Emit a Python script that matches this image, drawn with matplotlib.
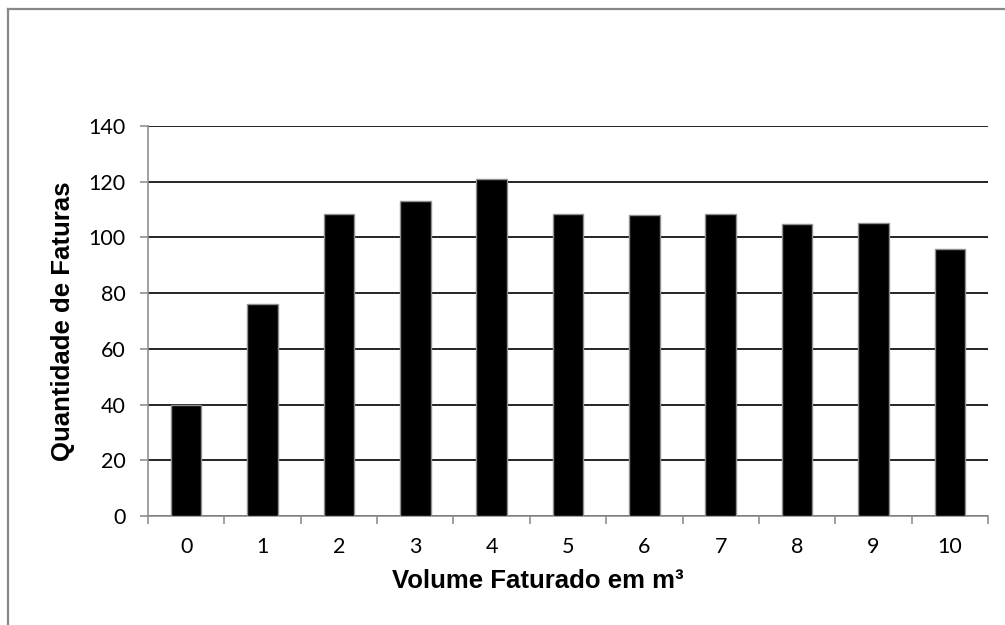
import matplotlib.pyplot as plt
import numpy as np
from matplotlib.lines import Line2D

categorias = ['0', '1', '2', '3', '4', '5', '6', '7', '8', '9', '10']
faturas = [40, 76, 108.3, 113.2, 120.9, 108.5, 108.2, 108.4, 104.7, 105.2, 95.8]
yticks = [0, 20, 40, 60, 80, 100, 120, 140]

fig = plt.figure(figsize=(10.05, 6.25), dpi=100)
ax = fig.add_axes([148 / 1005, 1 - 516 / 625, (988 - 148) / 1005, (516 - 126) / 625])

x = np.arange(len(categorias))
ax.bar(x, faturas, width=0.4, color='black', edgecolor='#909090', linewidth=1, zorder=3)

ax.set_xlim(-0.5, len(categorias) - 0.5)
ax.set_ylim(0, 140)
ax.set_yticks(yticks)
ax.set_yticklabels([str(v) for v in yticks], fontname='Lato', fontsize=15.5)
ax.yaxis.grid(True, color='black', linewidth=1.2, zorder=0)

# categorias no centro, marcas nas divisas
ax.set_xticks(x)
ax.set_xticklabels(categorias, fontname='Lato', fontsize=15.5)
ax.tick_params(axis='x', length=0, pad=15)
ax.set_xticks(np.arange(len(categorias) + 1) - 0.5, minor=True)
ax.tick_params(axis='x', which='minor', length=6, color='#909090', width=1.2)
ax.tick_params(axis='y', length=6, color='#909090', width=1.2, pad=10)

for s in ['top', 'right']:
    ax.spines[s].set_visible(False)
for s in ['left', 'bottom']:
    ax.spines[s].set_color('#909090')
    ax.spines[s].set_linewidth(1.2)

ax.set_xlabel('Volume Faturado em m³', fontname='Liberation Sans', fontweight='bold',
              fontsize=18.5)
ax.xaxis.set_label_coords(0.464, -0.137)
ax.set_ylabel('Quantidade de Faturas', fontname='Liberation Sans', fontweight='bold',
              fontsize=18.5, labelpad=10)

# moldura externa (só topo e esquerda visíveis)
fig.add_artist(Line2D([7.5 / 1005, 1], [1 - 8.5 / 625] * 2, color='#888888', linewidth=1.6))
fig.add_artist(Line2D([7.5 / 1005] * 2, [0, 1 - 8.5 / 625], color='#888888', linewidth=1.6))

fig.savefig('out.png', dpi=100, facecolor='white')
